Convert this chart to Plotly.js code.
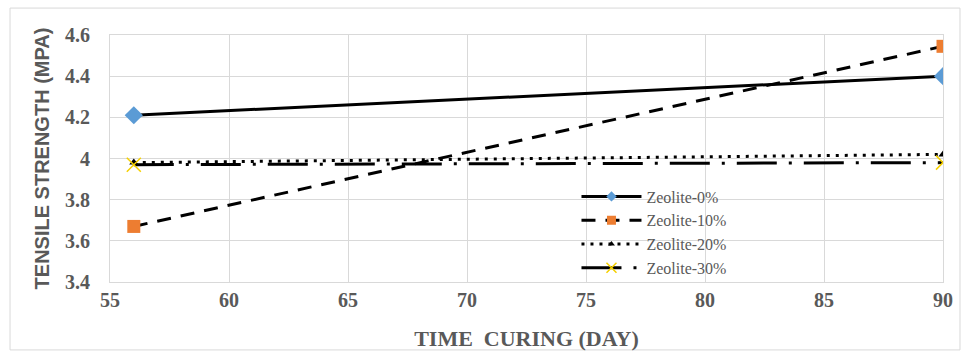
<!DOCTYPE html>
<html><head><meta charset="utf-8">
<script src="https://cdn.plot.ly/plotly-3.0.1.min.js"></script>
<style>html,body{margin:0;padding:0;background:#fff}#chart{width:968px;height:359px}</style>
</head><body><div id="chart"></div>
<script>
const days = [56, 90];
const seriesNames = ["Zeolite-0%", "Zeolite-10%", "Zeolite-20%", "Zeolite-30%"];
const zeolite0 = [4.21, 4.40];
const zeolite10 = [3.67, 4.545];
const zeolite20 = [3.98, 4.02];
const zeolite30 = [3.97, 3.98];
const xTicks = [55, 60, 65, 70, 75, 80, 85, 90];
const yTicks = [3.4, 3.6, 3.8, 4, 4.2, 4.4, 4.6];

const gray = "#595959";
const serif = "'Liberation Serif', serif";

const lines = [
  {color: "#000", width: 3},
  {color: "#000", width: 3, dash: "14px,10px"},
  {color: "#000", width: 3, dash: "3px,6px"},
  {color: "#000", width: 3, dash: "40px,12px,3px,12px"}
];
const markers = [
  {symbol: "diamond", size: 14, color: "#5b9bd5"},
  {symbol: "square", size: 13, color: "#ed7d31"},
  {symbol: "triangle-up", size: 8, color: "#000"},
  {symbol: "x-thin-open", size: 14, color: "#f5d000", line: {color: "#f5d000", width: 1.5}}
];
const legendMarkers = [
  {symbol: "diamond", size: 8, color: "#5b9bd5"},
  {symbol: "square", size: 9, color: "#ed7d31"},
  {symbol: "triangle-up", size: 6, color: "#000"},
  {symbol: "x-thin-open", size: 10, color: "#f5d000", line: {color: "#f5d000", width: 1.5}}
];
const seriesData = [zeolite0, zeolite10, zeolite20, zeolite30];

const traces = [];
seriesData.forEach((ys, i) => {
  traces.push({x: days, y: ys, name: seriesNames[i], mode: "lines+markers",
    line: lines[i], marker: markers[i], showlegend: false});
});
seriesData.forEach((ys, i) => {
  traces.push({x: [null], y: [null], name: seriesNames[i], mode: "lines+markers",
    line: lines[i], marker: legendMarkers[i], showlegend: true});
});

const layout = {
  width: 968, height: 359,
  margin: {l: 110, r: 25, t: 35, b: 77},
  paper_bgcolor: "#fff", plot_bgcolor: "#fff",
  showlegend: true,
  legend: {x: 0.56, y: 0.415, xanchor: "left", yanchor: "top", bgcolor: "rgba(0,0,0,0)",
           font: {family: serif, size: 16, color: gray}, itemwidth: 60, tracegroupgap: 0},
  xaxis: {range: [55, 90], tickvals: xTicks, ticktext: xTicks.map(String),
          showgrid: true, gridcolor: "#d9d9d9", gridwidth: 1, zeroline: false,
          showline: true, linecolor: "#d9d9d9", mirror: true, ticks: "",
          tickfont: {family: serif, size: 20, color: gray, weight: "bold"},
          title: {text: "TIME  CURING (DAY)", font: {family: serif, size: 22, color: gray, weight: "bold"}, standoff: 20}},
  yaxis: {range: [3.4, 4.6], tickvals: yTicks, ticktext: yTicks.map(v => String(v)),
          showgrid: true, gridcolor: "#d9d9d9", gridwidth: 1, zeroline: false,
          showline: true, linecolor: "#d9d9d9", mirror: true, ticks: "", ticklabelstandoff: 15,
          tickfont: {family: serif, size: 20, color: gray, weight: "bold"},
          title: {text: "TENSILE STRENGTH (MPA)", font: {family: "'Liberation Sans', sans-serif", size: 20, color: gray, weight: "bold"}, standoff: 10}},
  shapes: [{type: "rect", xref: "paper", yref: "paper", x0: -0.12, x1: 1.0204, y0: -0.275, y1: 1.109,
            line: {color: "#d9d9d9", width: 1}, fillcolor: "rgba(0,0,0,0)", layer: "below"}]
};

Plotly.newPlot("chart", traces, layout, {displayModeBar: false, staticPlot: true});
</script></body></html>
